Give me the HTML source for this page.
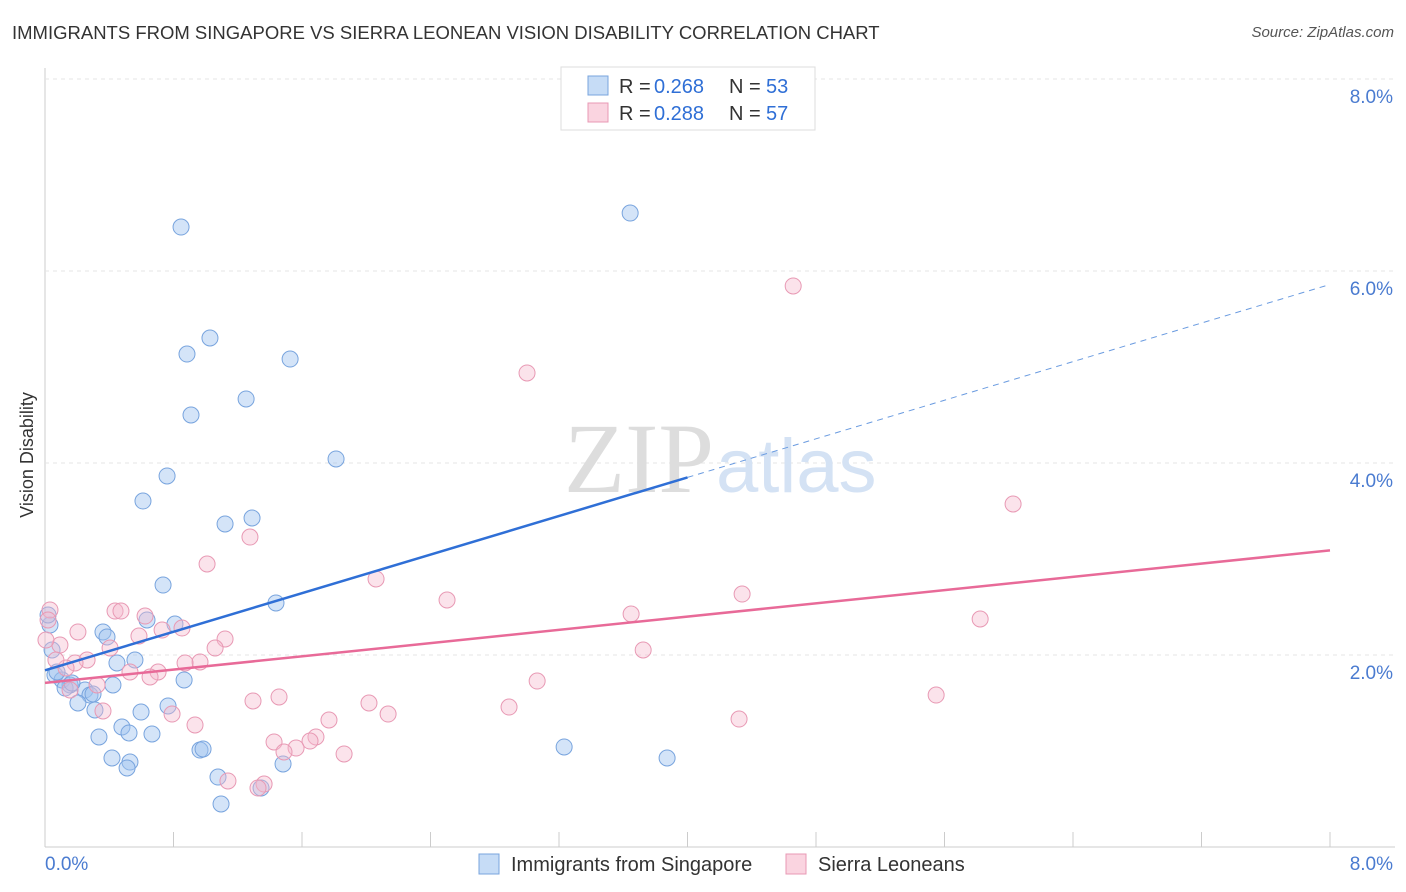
<!DOCTYPE html>
<html><head><meta charset="utf-8">
<style>
body{margin:0;background:#fff;font-family:"Liberation Sans",sans-serif;}
#wrap{position:relative;width:1406px;height:892px;overflow:hidden;}
.t{position:absolute;white-space:nowrap;}
</style></head>
<body>
<div id="wrap">
<div class="t" style="left:12px;top:22px;font-size:18.5px;color:#333;">IMMIGRANTS FROM SINGAPORE VS SIERRA LEONEAN VISION DISABILITY CORRELATION CHART</div>
<div class="t" style="right:12px;top:24px;font-size:15px;color:#555;font-style:italic;">Source: ZipAtlas.com</div>
<svg id="svg" width="1406" height="892" style="position:absolute;left:0;top:0"></svg>
</div>
<script>
const yTicks=[2,4,6,8];
const xTickLabels=["0.0%","8.0%"];
const blueX=[];const blueY=[];const pinkX=[];const pinkY=[];
const bluePx=[[630,213],[181,227],[210,338],[187,354],[290,359],[246,399],[191,415],[336,459],[167,476],[143,501],[252,518],[225,524],[163,585],[276,603],[175,624],[147,620],[103,632],[107,637],[135,660],[117,663],[55,675],[62,680],[70,685],[65,688],[85,690],[90,695],[113,685],[184,680],[78,703],[95,710],[168,706],[141,712],[122,727],[129,733],[152,734],[99,737],[200,750],[203,749],[564,747],[667,758],[112,758],[130,762],[127,768],[218,777],[283,764],[261,788],[221,804],[50,625],[52,650],[57,672],[93,694],[72,683],[48,615]];
const pinkPx=[[793,286],[527,373],[1013,504],[250,537],[207,564],[376,579],[447,600],[742,594],[631,614],[980,619],[115,611],[121,611],[145,616],[139,636],[78,632],[162,630],[182,628],[225,639],[215,648],[110,648],[87,660],[75,663],[66,668],[200,662],[185,663],[158,672],[130,672],[150,677],[643,650],[537,681],[936,695],[253,701],[279,697],[97,685],[103,711],[172,714],[369,703],[388,714],[509,707],[195,725],[329,720],[739,719],[316,737],[310,741],[274,742],[296,748],[284,752],[344,754],[228,781],[264,784],[258,788],[50,610],[48,620],[60,645],[46,640],[70,690],[56,660]];
bluePx.forEach(p=>{blueX.push(+((p[0]-45)/160.6).toFixed(3));blueY.push(+((847-p[1])/96).toFixed(3));});
pinkPx.forEach(p=>{pinkX.push(+((p[0]-45)/160.6).toFixed(3));pinkY.push(+((847-p[1])/96).toFixed(3));});
const blueLine=[1.84,5.86];const pinkLine=[1.71,3.09];

const X=v=>45+v*160.625, Y=v=>847-v*96;
const svg=document.getElementById('svg');const NS='http://www.w3.org/2000/svg';
function mk(tag,attrs,name){const e=document.createElementNS(NS,tag);for(const k in attrs)e.setAttribute(k,attrs[k]);


svg.appendChild(e);return e;}
mk('line',{x1:45,y1:68,x2:45,y2:847,stroke:'#ccc'},'y-axis');
mk('line',{x1:45,y1:847,x2:1395,y2:847,stroke:'#ccc'},'x-axis');
yTicks.forEach(v=>{mk('line',{x1:45,x2:1395,y1:Y(v),y2:Y(v),stroke:'#e4e4e4','stroke-dasharray':'4,4'},'gridline');
const t=mk('text',{x:1393,y:Y(v)+24,'text-anchor':'end','font-size':19,fill:'#4a7bd0'},'y-tick-label');t.textContent=v.toFixed(1)+'%';});
for(let i=0;i<=10;i++){mk('line',{x1:X(i*0.8),x2:X(i*0.8),y1:832,y2:847,stroke:'#ccc'},'x-tick');}
let t=mk('text',{x:45,y:870,'font-size':19,fill:'#4a7bd0'},'x-tick-label');t.textContent=xTickLabels[0];
t=mk('text',{x:1393,y:870,'text-anchor':'end','font-size':19,fill:'#4a7bd0'},'x-tick-label');t.textContent=xTickLabels[1];
t=mk('text',{x:33,y:455,'font-size':18,fill:'#333','text-anchor':'middle',transform:'rotate(-90 33 455)'},'y-axis-title');t.textContent='Vision Disability';
t=mk('text',{x:714,y:492,'font-size':100,fill:'#ddd','text-anchor':'end','font-family':'Liberation Serif'},'watermark-zip');t.textContent='ZIP';
t=mk('text',{x:716,y:492,'font-size':76,fill:'#d4e2f4'},'watermark-atlas');t.textContent='atlas';
blueX.forEach((x,i)=>mk('circle',{cx:X(x),cy:Y(blueY[i]),r:8,fill:'rgba(160,196,240,0.45)',stroke:'#78a4de','stroke-width':1},'singapore-point'));
pinkX.forEach((x,i)=>mk('circle',{cx:X(x),cy:Y(pinkY[i]),r:8,fill:'rgba(246,184,204,0.4)',stroke:'#e899b4','stroke-width':1},'sierra-leonean-point'));
const bAt=x=>blueLine[0]+(blueLine[1]-blueLine[0])*x/8;
mk('line',{x1:X(0),y1:Y(bAt(0)),x2:X(4),y2:Y(bAt(4)),stroke:'#2f6fd6','stroke-width':2.5},'singapore-trend-line');
mk('line',{x1:X(4),y1:Y(bAt(4)),x2:X(8),y2:Y(bAt(8)),stroke:'#6a9be0','stroke-width':1,'stroke-dasharray':'6,5'},'singapore-trend-extension');
mk('line',{x1:X(0),y1:Y(pinkLine[0]),x2:X(8),y2:Y(pinkLine[1]),stroke:'#e86a98','stroke-width':2.5},'sierra-leonean-trend-line');
mk('rect',{x:561,y:67,width:254,height:63,fill:'#fff',stroke:'#ddd'},'legend-box');
mk('rect',{x:588,y:76,width:20,height:19,fill:'rgba(160,196,240,0.6)',stroke:'#78a4de'},'legend-swatch-blue');
mk('rect',{x:588,y:103,width:20,height:19,fill:'rgba(246,184,204,0.6)',stroke:'#e899b4'},'legend-swatch-pink');
function lt(x,y,s,c,n){const e=mk('text',{x:x,y:y,'font-size':20,fill:c},n);e.textContent=s;}
lt(619,93,'R = ','#333','legend-r-label');lt(654,93,'0.268','#2f6fd6','legend-r-blue');lt(729,93,'N = ','#333','legend-n-label');lt(766,93,'53','#2f6fd6','legend-n-blue');
lt(619,120,'R = ','#333','legend-r-label');lt(654,120,'0.288','#2f6fd6','legend-r-pink');lt(729,120,'N = ','#333','legend-n-label');lt(766,120,'57','#2f6fd6','legend-n-pink');
mk('rect',{x:479,y:854,width:20,height:20,fill:'rgba(160,196,240,0.6)',stroke:'#78a4de'},'bottom-legend-swatch-blue');
lt(511,871,'Immigrants from Singapore','#333','bottom-legend-singapore');
mk('rect',{x:786,y:854,width:20,height:20,fill:'rgba(246,184,204,0.6)',stroke:'#e899b4'},'bottom-legend-swatch-pink');
lt(818,871,'Sierra Leoneans','#333','bottom-legend-sierra-leoneans');
</script>
</body></html>
